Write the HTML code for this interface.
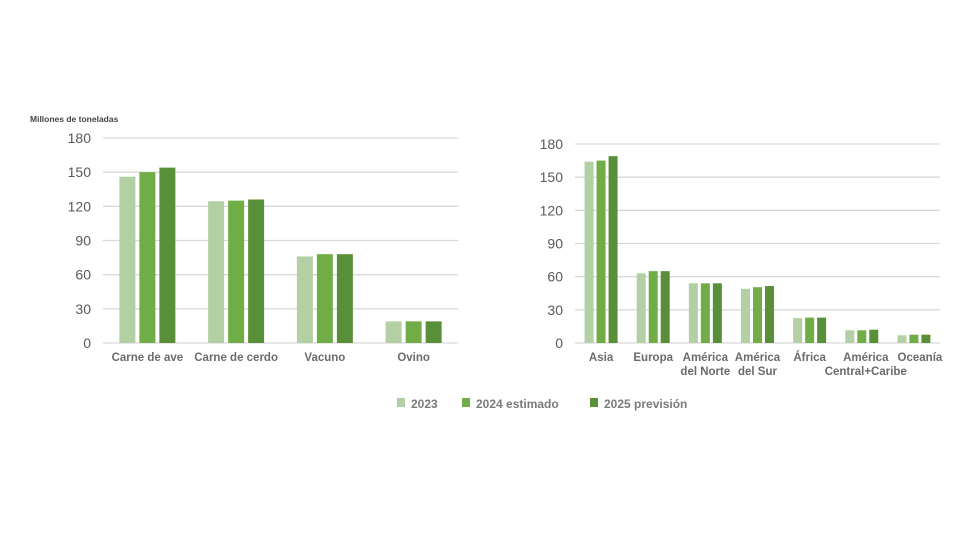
<!DOCTYPE html>
<html><head><meta charset="utf-8"><style>
html,body{margin:0;padding:0;background:#fff;}
svg{display:block;font-family:"Liberation Sans",sans-serif;}
.tick{fill:#595959;font-size:14px;}
.cat{fill:#6b6b6b;font-size:11.5px;font-weight:bold;}
.leg{fill:#7a7a7a;font-size:12px;font-weight:bold;}
</style></head><body>
<svg id="chart" width="980" height="560" viewBox="0 0 980 560">
<text x="30" y="122" fill="#444" font-size="8.5" font-weight="bold">Millones de toneladas</text>
<g id="left"></g>
<g id="right"></g>
<g id="legend"></g>
</svg>
<script>
const ticks = [0, 30, 60, 90, 120, 150, 180];
const seriesNames = ["2023", "2024 estimado", "2025 previsión"];
const colors = ["#b3cfa4", "#70ad47", "#5a8f3a"];
const leftCats = [["Carne de ave"], ["Carne de cerdo"], ["Vacuno"], ["Ovino"]];
const left2023 = [146, 124.5, 76, 19];
const left2024 = [150, 125, 78, 19];
const left2025 = [154, 126, 78, 19];
const rightCats = [["Asia"], ["Europa"], ["América", "del Norte"], ["América", "del Sur"], ["África"], ["América", "Central+Caribe"], ["Oceanía"]];
const right2023 = [164, 63, 54, 49, 22.5, 11.5, 7];
const right2024 = [165, 65, 54, 50.5, 23, 11.5, 7.5];
const right2025 = [169, 65, 54, 51.5, 23, 12, 7.5];

const NS = "http://www.w3.org/2000/svg";
function mk(tag, attrs, parent) {
  const e = document.createElementNS(NS, tag);
  for (const k in attrs) e.setAttribute(k, attrs[k]);
  parent.appendChild(e);
  return e;
}
function drawChart(g, cfg, cats, series, prefix) {
  const y = v => cfg.y0 - (v / 180) * (cfg.y0 - cfg.y180);
  const band = (cfg.x1 - cfg.x0) / cats.length;
  ticks.forEach(t => {
    const l = mk("line", {x1: cfg.x0, x2: cfg.x1, y1: y(t), y2: y(t), stroke: "#d9d9d9", "stroke-width": 1.3}, g);
    
    
    const tx = mk("text", {x: cfg.x0 - 12, y: y(t) + 5, "text-anchor": "end", class: "tick"}, g);
    tx.textContent = t;
    
    
  });
  cats.forEach((c, i) => {
    const cx = cfg.x0 + band * (i + 0.5);
    const total = 3 * cfg.bw + 2 * cfg.gap;
    series.forEach((s, j) => {
      const bx = cx - total / 2 + j * (cfg.bw + cfg.gap);
      const r = mk("rect", {x: bx, y: y(s[i]), width: cfg.bw, height: y(0) - y(s[i]), fill: colors[j]}, g);
      
      
    });
    c.forEach((line, k) => {
      const tx = mk("text", {x: cx + (cfg.off ? cfg.off[i] : 0), y: cfg.y0 + 18 + k * 14, "text-anchor": "middle", class: "cat"}, g);
      tx.textContent = line;
      
      
    });
  });
}
drawChart(document.getElementById("left"), {x0: 103, x1: 458, y0: 343, y180: 138, bw: 16, gap: 4}, leftCats, [left2023, left2024, left2025], "left");
drawChart(document.getElementById("right"), {x0: 575, x1: 940, y0: 343, y180: 144, bw: 9, gap: 3, off: [0,0,0,0,0,4,6]}, rightCats, [right2023, right2024, right2025], "right");

const lg = document.getElementById("legend");
const lx = [397, 462, 590];
seriesNames.forEach((n, i) => {
  const r = mk("rect", {x: lx[i], y: 398, width: 8, height: 9, fill: colors[i]}, lg);
  
  
  const t = mk("text", {x: lx[i] + 14, y: 408, class: "leg"}, lg);
  t.textContent = n;
  
  
});
</script>
</body></html>
